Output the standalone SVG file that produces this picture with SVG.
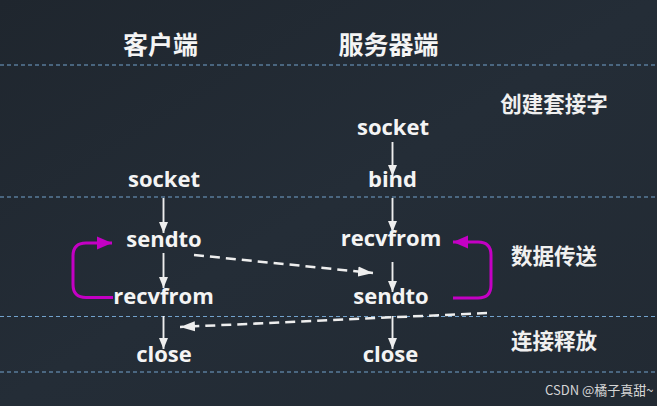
<svg xmlns="http://www.w3.org/2000/svg" width="657" height="406" viewBox="0 0 657 406">
<defs>
<linearGradient id="bg" x1="0" y1="0" x2="1" y2="1">
<stop offset="0" stop-color="#1f262e"/>
<stop offset="0.5" stop-color="#242d37"/>
<stop offset="1" stop-color="#222a33"/>
</linearGradient>
<marker id="ah" markerUnits="userSpaceOnUse" markerWidth="12" markerHeight="12" viewBox="0 0 12 12" refX="11" refY="6" orient="auto">
<path d="M0,1.5 L11,6 L0,10.5 Z" fill="#eeeeee"/>
</marker>
<marker id="ahd" markerUnits="userSpaceOnUse" markerWidth="16" markerHeight="12" viewBox="0 0 16 12" refX="15" refY="6" orient="auto">
<path d="M0,1 L15,6 L0,11 Z" fill="#eeeeee"/>
</marker>
<marker id="ahm" markerUnits="userSpaceOnUse" markerWidth="16" markerHeight="14" viewBox="0 0 16 14" refX="15" refY="7" orient="auto">
<path d="M0,0.5 L15,7 L0,13.5 Z" fill="#c400c4"/>
</marker>
</defs>
<style>
.sep{stroke:#72a2cc;stroke-width:1.2;stroke-dasharray:4 3;fill:none}
.lbl{font-family:"Open Sans","Noto Sans",sans-serif;font-weight:bold;font-size:22px;fill:#f4f4f4;text-anchor:middle}
.ttl{font-family:"Noto Sans CJK SC",sans-serif;font-weight:bold;font-size:25px;fill:#f4f4f4;text-anchor:middle}
.sec{font-family:"Noto Sans CJK SC",sans-serif;font-weight:bold;font-size:21.5px;fill:#f0f0f0;text-anchor:middle}
.arr{stroke:#eeeeee;stroke-width:1.9;fill:none;marker-end:url(#ah)}
.darr{stroke:#eeeeee;stroke-width:2.5;stroke-dasharray:10 6;fill:none;marker-end:url(#ahd)}
.loop{stroke:#c400c4;stroke-width:3;fill:none;marker-end:url(#ahm)}
.wm{font-family:"Noto Sans CJK SC",sans-serif;font-size:13px;fill:#d6d6d6}
</style>
<rect width="657" height="406" fill="url(#bg)"/>
<g id="separators">
<line class="sep" x1="0" y1="65" x2="657" y2="65"/>
<line class="sep" x1="0" y1="197" x2="657" y2="197"/>
<line class="sep" x1="0" y1="316.5" x2="657" y2="316.5"/>
<line class="sep" x1="0" y1="372" x2="657" y2="372"/>
</g>
<g id="titles">
<text class="ttl" x="160.5" y="54">客户端</text>
<text class="ttl" x="388.5" y="54">服务器端</text>
</g>
<g id="sections">
<text class="sec" x="554" y="112">创建套接字</text>
<text class="sec" x="554" y="264">数据传送</text>
<text class="sec" x="554" y="349">连接释放</text>
</g>
<g id="client-socket"><text class="lbl" x="164" y="187">socket</text></g>
<g id="client-sendto"><text class="lbl" x="164" y="247">sendto</text></g>
<g id="client-recvfrom"><text class="lbl" x="163.5" y="304">recvfrom</text></g>
<g id="client-close"><text class="lbl" x="164" y="362">close</text></g>
<g id="server-socket"><text class="lbl" x="393" y="135">socket</text></g>
<g id="server-bind"><text class="lbl" x="392.5" y="187">bind</text></g>
<g id="server-recvfrom"><text class="lbl" x="391" y="246">recvfrom</text></g>
<g id="server-sendto"><text class="lbl" x="391" y="304">sendto</text></g>
<g id="server-close"><text class="lbl" x="390.5" y="362">close</text></g>
<g id="connectors">
<line class="arr" x1="163.5" y1="198" x2="163.5" y2="233"/>
<line class="arr" x1="163.5" y1="253" x2="163.5" y2="288"/>
<line class="arr" x1="163.5" y1="316" x2="163.5" y2="349"/>
<line class="arr" x1="392.5" y1="142" x2="392.5" y2="176"/>
<line class="arr" x1="392.5" y1="198" x2="392.5" y2="232"/>
<line class="arr" x1="392.5" y1="262" x2="392.5" y2="292"/>
<line class="arr" x1="392.5" y1="316" x2="392.5" y2="349"/>
<line class="darr" x1="194" y1="255" x2="373" y2="273"/>
<line class="darr" x1="487" y1="313" x2="180" y2="327"/>
<path class="loop" d="M113,297.5 H86 Q73,297.5 73,284.5 V256 Q73,243 86,243 H112"/>
<path class="loop" d="M453,298 H478 Q491,298 491,285 V255 Q491,242 478,242 H453"/>
</g>
<text class="wm" x="545" y="395">CSDN  @橘子真甜~</text>
</svg>
